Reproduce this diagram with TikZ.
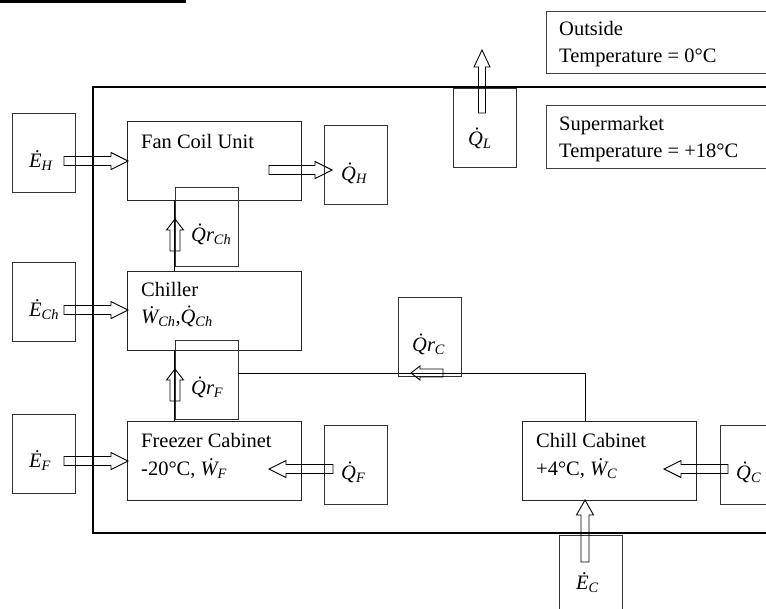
\documentclass[tikz,border=0pt]{standalone}
\usepackage{fontspec}
\setmainfont{Liberation Serif}
\newcommand\fluxlab[2]{{\itshape\.{#1}}\textsubscript{\itshape #2}}
\newcommand\fluxrlab[2]{{\itshape\.{#1}r}\textsubscript{\itshape #2}}
\newcommand\harr[6]{% x1 x2 y shafthalf headhalf headlen
  \pgfmathsetmacro\hsgn{(#2>#1)?1:-1}%
  \pgfmathsetmacro\hbase{#2-\hsgn*#6}%
  \draw[barrow] (#1,#3-#4) -- (\hbase,#3-#4) -- (\hbase,#3-#5) -- (#2,#3) -- (\hbase,#3+#5) -- (\hbase,#3+#4) -- (#1,#3+#4) -- cycle;}
\newcommand\varr[6]{% x y1 y2 shafthalf headhalf headlen
  \pgfmathsetmacro\vsgn{(#3>#2)?1:-1}%
  \pgfmathsetmacro\vbase{#3-\vsgn*#6}%
  \draw[barrow] (#1-#4,#2) -- (#1-#4,\vbase) -- (#1-#5,\vbase) -- (#1,#3) -- (#1+#5,\vbase) -- (#1+#4,\vbase) -- (#1+#4,#2) -- cycle;}
\begin{document}
\begin{tikzpicture}[x=1pt,y=-1pt,
  box/.style={draw=black!85, line width=0.9pt, minimum width=174pt, minimum height=79pt, inner sep=0pt},
  lbox/.style={draw=black!80, line width=0.9pt, minimum width=63pt, minimum height=79pt, inner sep=0pt},
  tbox/.style={draw=black!75, line width=0.9pt},
  txt/.style={anchor=base west, inner sep=0pt, font=\fontsize{20.5}{25}\selectfont},
  lab/.style={anchor=base west, inner sep=0pt, font=\fontsize{20.5}{25}\selectfont},
  wire/.style={draw=black, line width=0.9pt},
  outer/.style={draw=black, line width=1.1pt},
  barrow/.style={draw=black, line width=0.9pt, line join=miter}]
\useasboundingbox (0,0) rectangle (766,608);
\clip (0,0) rectangle (766,608);

% cut-off heading rule
\fill[black] (0,0) rectangle (186,3);

% outer building boundary
\draw[outer] (93,87) rectangle (800,533);

% temperature boxes
\draw[tbox] (546,11) rectangle (800,73);
\node[txt] (outsideA) at (559,35) {Outside};
\node[txt] (outsideB) at (559,62) {Temperature = 0°C};
\draw[tbox] (546,105) rectangle (800,168);
\node[txt] (smA) at (559,130) {Supermarket};
\node[txt] (smB) at (559,157) {Temperature = +18°C};

% main units
\node[box] (fcu) at (214,160.5) {};
\node[txt] at (141,148) {Fan Coil Unit};
\node[box] (ch) at (214,310.5) {};
\node[txt] at (141,296) {Chiller};
\node[txt] at (141,323) {{\itshape\.{W}}\textsubscript{\itshape Ch},{\itshape\.{Q}}\textsubscript{\itshape Ch}};
\node[box] (fr) at (214,460.5) {};
\node[txt] at (141,447) {Freezer Cabinet};
\node[txt] at (141,475) {-20°C, \fluxlab{W}{F}};
\node[box] (chill) at (609,460.5) {};
\node[txt] at (536,447) {Chill Cabinet};
\node[txt] at (536,475) {+4°C, \fluxlab{W}{C}};

% label boxes
\node[lbox] (eH) at (43.5,152.5) {};
\node[lbox] (eCh) at (43.5,301.5) {};
\node[lbox] (eF) at (43.5,453.5) {};
\node[lbox] (qH) at (356,164.5) {};
\node[lbox] (qF) at (356,464.5) {};
\node[lbox] (qC) at (751.5,464.5) {};
\node[lbox] (qrch) at (206.5,226.5) {};
\node[lbox] (qrF) at (206.5,379.5) {};
\node[lbox] (qrC) at (429.5,336.5) {};
\node[lbox] (qL) at (485,127.5) {};
\node[lbox] (eC) at (591,574.5) {};

% labels
\node[lab] at (29,167) {\fluxlab{E}{H}};
\node[lab] at (29,316) {\fluxlab{E}{Ch}};
\node[lab] at (29,467) {\fluxlab{E}{F}};
\node[lab] at (341,180) {\fluxlab{Q}{H}};
\node[lab] at (341,479) {\fluxlab{Q}{F}};
\node[lab] at (736,479) {\fluxlab{Q}{C}};
\node[lab] at (191,241) {\fluxrlab{Q}{Ch}};
\node[lab] at (191,394) {\fluxrlab{Q}{F}};
\node[lab] at (412,351) {\fluxrlab{Q}{C}};
\node[lab] at (468,145) {\fluxlab{Q}{L}};
\node[lab] at (576,589) {\fluxlab{E}{C}};

% refrigerant connections
\draw[wire] (fcu.south -| qrch.west) -- (ch.north -| qrch.west);
\draw[wire] (ch.south -| qrF.west) -- (fr.north -| qrF.west);
\coordinate (bend) at (585,373);
\draw[wire] (qrF.east |- bend) -- (bend) -- (chill.north -| bend);

% block arrows
\harr{64}{128}{161}{4.5}{8.5}{17}
\harr{269}{332}{170}{4.5}{8.5}{17}
\harr{64}{128}{310}{4.5}{8.5}{17}
\harr{64}{128}{461}{4.5}{8.5}{17}
\harr{333}{269}{469}{4.5}{8.5}{17}
\harr{728}{664}{469}{4.5}{8.5}{17}
\harr{443}{411}{373}{4}{7}{9}
\varr{175}{251}{219}{5}{8.5}{11}
\varr{175}{401}{369}{5}{8.5}{11}
\varr{585}{562}{500}{4}{8.5}{15}
\varr{482}{113}{50}{3.5}{8}{17}
\end{tikzpicture}
\end{document}
